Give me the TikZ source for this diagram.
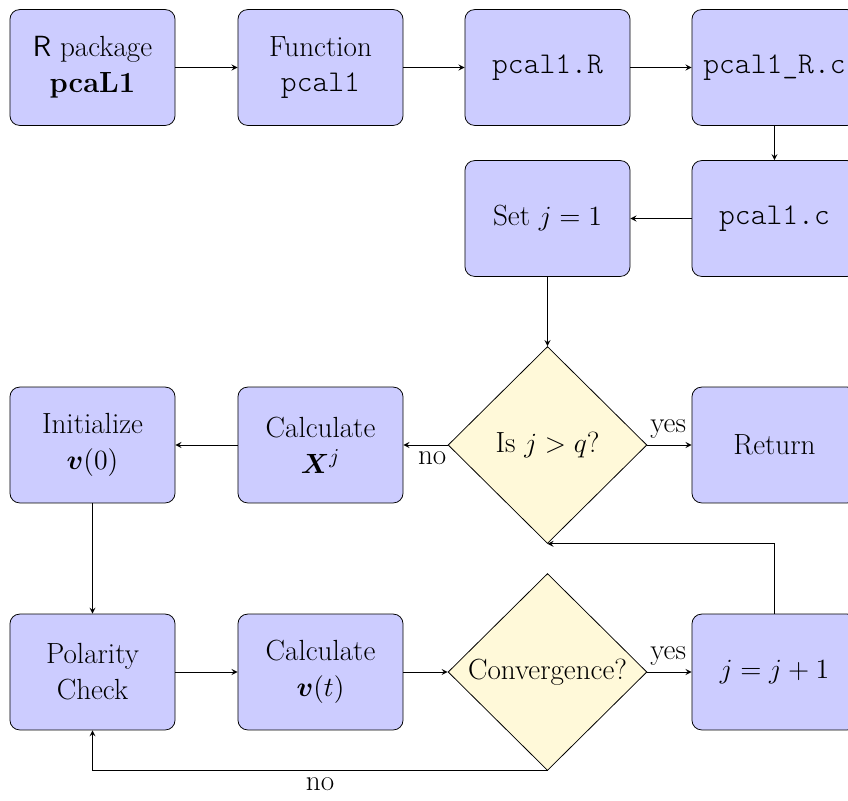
\documentclass[tikz,border=0pt]{standalone}
\usepackage{amsmath,bm}
\usetikzlibrary{shapes.geometric,arrows}
\definecolor{boxblue}{RGB}{204,204,255}
\definecolor{decyellow}{RGB}{255,249,217}
\newcommand{\mytt}[1]{{\fontsize{15.6pt}{19pt}\ttfamily\fontseries{l}\selectfont #1}}
\begin{document}
\begin{tikzpicture}[x=0.518pt,y=-0.518pt,>=stealth,
  box/.style={draw, rounded corners=5pt, fill=boxblue, minimum width=85.5pt, minimum height=60pt, align=center, font=\fontsize{15.1pt}{18.6pt}\selectfont, inner sep=2pt},
  dec/.style={draw, diamond, fill=decyellow, minimum width=103pt, minimum height=102pt, inner sep=0pt, font=\fontsize{15.1pt}{18.6pt}\selectfont},
  lbl/.style={font=\fontsize{15.1pt}{18.6pt}\selectfont}]
\useasboundingbox (0,0) rectangle (848,800);
% row 1
\node[box] (rpk) at (92.5,67.5) {\textsf{R} package\\ \textbf{pcaL1}};
\node[box] (fun) at (320.5,67.5) {Function\\ \mytt{pcal1}};
\node[box] (pr) at (547.5,67.5) {\mytt{pcal1.R}};
\node[box] (prc) at (774.5,67.5) {\mytt{pcal1\_R.c}};
% row 2
\node[box] (setj) at (547.5,218.5) {Set $j=1$};
\node[box] (pc) at (774.5,218.5) {\mytt{pcal1.c}};
% row 3
\node[box] (init) at (92.5,445) {Initialize\\ $\bm{v}(0)$};
\node[box] (calx) at (320.5,445) {Calculate\\ $\bm{X}^j$};
\node[dec] (d1) at (547.5,445) {Is $j>q$?};
\node[box] (ret) at (774.5,445) {Return};
% row 4
\node[box] (pol) at (92.5,672) {Polarity\\ Check};
\node[box] (calv) at (320.5,672) {Calculate\\ $\bm{v}(t)$};
\node[dec] (d2) at (547.5,672) {Convergence?};
\node[box] (jj) at (774.5,672) {$j=j+1$};
% edges
\draw[->] (rpk) -- (fun);
\draw[->] (fun) -- (pr);
\draw[->] (pr) -- (prc);
\draw[->] (prc) -- (pc);
\draw[->] (pc) -- (setj);
\draw[->] (setj) -- (d1);
\draw[->] (d1) -- node[lbl, pos=0.35, below] {no} (calx);
\draw[->] (d1) -- node[lbl, pos=0.47, above] {yes} (ret);
\draw[->] (calx) -- (init);
\draw[->] (init) -- (pol);
\draw[->] (pol) -- (calv);
\draw[->] (calv) -- (d2);
\draw[->] (d2) -- node[lbl, pos=0.47, above] {yes} (jj);
\draw[->] (jj.north) |- (d1.south);
\draw[->] (d2.south) -| node[lbl, pos=0.25, below] {no} (pol.south);
\end{tikzpicture}
\end{document}
